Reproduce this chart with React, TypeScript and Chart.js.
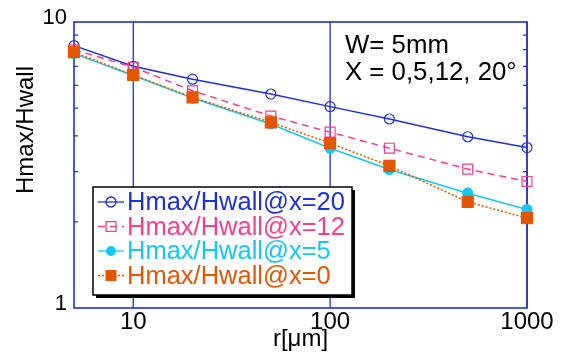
import { useEffect, useRef } from 'react';
import { Chart, registerables } from 'chart.js';
Chart.register(...registerables);

const radii = [5, 10, 20, 50, 100, 200, 500, 1000];
const ratioX20 = [8.27, 7.0, 6.31, 5.6, 5.06, 4.58, 3.97, 3.64];
const ratioX12 = [8.0, 6.95, 5.75, 4.69, 4.12, 3.62, 3.06, 2.77];
const ratioX5 = [7.75, 6.5, 5.42, 4.4, 3.62, 3.05, 2.52, 2.21];
const ratioX0 = [7.84, 6.53, 5.45, 4.46, 3.77, 3.14, 2.35, 2.06];
const xTicks = [10, 100, 1000];
const yTicks = [1, 10];
const yMinor = [2, 3, 4, 5, 6, 7, 8, 9];
const seriesLabels = ['Hmax/Hwall@x=20', 'Hmax/Hwall@x=12', 'Hmax/Hwall@x=5', 'Hmax/Hwall@x=0'];
const noteLines = ['W= 5mm', 'X = 0,5,12, 20°'];
const xTitle = 'r[μm]';
const yTitle = 'Hmax/Hwall';

const BLUE = '#1f2fd8';
const PINK = '#ff3d87';
const CYAN = '#12c8ee';
const ORANGE = '#e35500';
const FONT = '"Liberation Sans", Arial, sans-serif';

type Style = { color: string; dash: number[]; marker: 'circle' | 'rect'; fill: boolean; r: number };
const legendStyles: Style[] = [
  { color: BLUE, dash: [], marker: 'circle', fill: false, r: 5 },
  { color: PINK, dash: [7, 5], marker: 'rect', fill: false, r: 7 },
  { color: CYAN, dash: [], marker: 'circle', fill: true, r: 5 },
  { color: ORANGE, dash: [2, 2], marker: 'rect', fill: true, r: 7.8 },
];

function toPoints(vals: number[]) {
  return radii.map((x, i) => ({ x, y: vals[i] }));
}

export default function App() {
  const ref = useRef<HTMLCanvasElement | null>(null);
  useEffect(() => {
    if (!ref.current) return;
    const framePlugin = {
      id: 'frame',
      beforeDatasetsDraw(chart: any) {
        const { ctx, chartArea: a, scales } = chart;
        ctx.save();
        ctx.strokeStyle = BLUE;
        ctx.lineWidth = 1.3;
        xTicks.forEach((v) => {
          const x = scales.x.getPixelForValue(v);
          ctx.beginPath();
          ctx.moveTo(x, a.top);
          ctx.lineTo(x, a.bottom);
          ctx.stroke();
        });
        yMinor.forEach((v) => {
          const y = scales.y.getPixelForValue(v);
          ctx.beginPath();
          ctx.moveTo(a.left, y);
          ctx.lineTo(a.left + 4, y);
          ctx.moveTo(a.right - 4, y);
          ctx.lineTo(a.right, y);
          ctx.stroke();
        });
        ctx.lineWidth = 1.6;
        ctx.strokeRect(a.left, a.top, a.right - a.left, a.bottom - a.top);
        ctx.restore();
      },
      afterDraw(chart: any) {
        const { ctx, chartArea: a } = chart;
        ctx.save();
        // notes
        ctx.fillStyle = '#000';
        ctx.font = `25.8px ${FONT}`;
        ctx.textAlign = 'left';
        ctx.textBaseline = 'alphabetic';
        ctx.fillText(noteLines[0], 345, 53);
        ctx.fillText(noteLines[1], 345, 80);
        // axis titles
        ctx.font = `24px ${FONT}`;
        ctx.textAlign = 'center';
        ctx.fillText(xTitle, (a.left + a.right) / 2, 346);
        ctx.save();
        ctx.translate(33, 130);
        ctx.rotate(-Math.PI / 2);
        ctx.fillText(yTitle, 0, 0);
        ctx.restore();
        // legend
        const lx = 93, ly = 187, lw = 259, lh = 108;
        ctx.fillStyle = '#000';
        ctx.fillRect(lx + 3, ly + 3, lw, lh);
        ctx.fillStyle = '#fff';
        ctx.fillRect(lx, ly, lw, lh);
        ctx.strokeStyle = '#000';
        ctx.lineWidth = 1.5;
        ctx.strokeRect(lx, ly, lw, lh);
        legendStyles.forEach((s, i) => {
          const y = 202 + i * 24.5;
          ctx.strokeStyle = s.color;
          ctx.lineWidth = 1.3;
          ctx.setLineDash(s.dash);
          ctx.beginPath();
          ctx.moveTo(98, y);
          ctx.lineTo(124, y);
          ctx.stroke();
          ctx.setLineDash([]);
          ctx.fillStyle = s.color;
          ctx.beginPath();
          if (s.marker === 'circle') {
            ctx.arc(111, y, s.r, 0, Math.PI * 2);
          } else {
            const h = s.r * Math.SQRT1_2;
            ctx.rect(111 - h, y - h, 2 * h, 2 * h);
          }
          if (s.fill) ctx.fill();
          else ctx.stroke();
          ctx.fillStyle = s.color;
          ctx.font = `25.5px ${FONT}`;
          ctx.textAlign = 'left';
          ctx.textBaseline = 'middle';
          ctx.fillText(seriesLabels[i], 127, y + 1);
        });
        ctx.restore();
      },
    };

    const mk = (vals: number[], s: Style, label: string) => ({
      label,
      data: toPoints(vals),
      borderColor: s.color,
      borderWidth: 1.5,
      borderDash: s.dash,
      pointStyle: s.marker,
      pointRadius: s.r,
      pointBorderWidth: 1.2,
      pointBorderColor: s.color,
      pointBackgroundColor: s.fill ? s.color : 'rgba(255,255,255,0)',
      fill: false,
      tension: 0,
      clip: false as any,
    });

    const chart = new Chart(ref.current, {
      type: 'line',
      data: {
        datasets: [
          mk(ratioX0, legendStyles[3], seriesLabels[3]),
          mk(ratioX5, legendStyles[2], seriesLabels[2]),
          mk(ratioX12, legendStyles[1], seriesLabels[1]),
          mk(ratioX20, legendStyles[0], seriesLabels[0]),
        ],
      },
      options: {
        responsive: false,
        animation: false,
        layout: { padding: { left: 0, top: 22, right: 34, bottom: 0 } },
        plugins: { legend: { display: false }, tooltip: { enabled: false } },
        scales: {
          x: {
            type: 'logarithmic',
            min: 5,
            max: 1000,
            afterBuildTicks: (s: any) => {
              s.ticks = xTicks.map((v) => ({ value: v }));
            },
            afterFit: (s: any) => {
              s.height = 47;
            },
            ticks: {
              autoSkip: false,
              maxRotation: 0,
              padding: 0,
              color: '#000',
              font: { size: 24, family: FONT },
              callback: (v: any) => String(v),
            },
            grid: { display: false, drawTicks: false },
            border: { display: false },
          },
          y: {
            type: 'logarithmic',
            min: 1,
            max: 10,
            afterBuildTicks: (s: any) => {
              s.ticks = yTicks.map((v) => ({ value: v }));
            },
            afterFit: (s: any) => {
              s.width = 74;
            },
            ticks: {
              autoSkip: false,
              padding: 7,
              labelOffset: -4,
              color: '#000',
              font: { size: 22, family: FONT },
              callback: (v: any) => String(v),
            },
            grid: { display: false, drawTicks: false },
            border: { display: false },
          },
        },
      },
      plugins: [framePlugin],
    });
    return () => chart.destroy();
  }, []);

  return (
    <div style={{ position: 'fixed', left: 0, top: 0, width: 561, height: 355, background: '#fff' }}>
      <canvas ref={ref} width={561} height={355} style={{ display: 'block' }} />
    </div>
  );
}
